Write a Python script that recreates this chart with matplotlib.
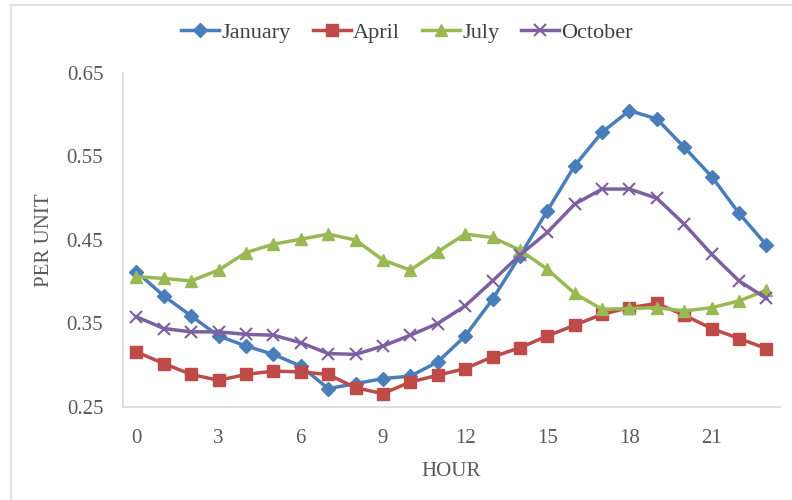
import numpy as np
from matplotlib import pyplot as plt
from matplotlib.lines import Line2D

plt.rcParams["font.family"] = "Liberation Serif"
plt.rcParams["font.size"] = 15

hours = list(range(24))

january = [0.412, 0.383, 0.359, 0.335, 0.323, 0.313, 0.299, 0.272, 0.278, 0.284, 0.287, 0.304,
           0.335, 0.379, 0.431, 0.485, 0.539, 0.579, 0.605, 0.595, 0.561, 0.526, 0.482, 0.444]
april = [0.316, 0.302, 0.289, 0.282, 0.289, 0.293, 0.292, 0.289, 0.273, 0.266, 0.280, 0.288,
         0.296, 0.310, 0.321, 0.335, 0.348, 0.361, 0.369, 0.374, 0.360, 0.344, 0.332, 0.320]
july = [0.406, 0.404, 0.401, 0.414, 0.435, 0.445, 0.451, 0.457, 0.450, 0.426, 0.414, 0.436,
        0.457, 0.453, 0.438, 0.415, 0.386, 0.367, 0.368, 0.369, 0.365, 0.369, 0.377, 0.390]
october = [0.358, 0.344, 0.340, 0.340, 0.337, 0.336, 0.327, 0.314, 0.313, 0.323, 0.336, 0.350,
           0.371, 0.401, 0.432, 0.459, 0.493, 0.511, 0.511, 0.500, 0.469, 0.433, 0.401, 0.380]

x_ticks = [0, 3, 6, 9, 12, 15, 18, 21]
y_ticks = [0.25, 0.35, 0.45, 0.55, 0.65]

text_color = "#595959"

fig = plt.figure(figsize=(7.92, 5), dpi=100)
ax = fig.add_axes([0.155, 0.186, 0.830, 0.668])

ax.plot(hours, january, color="#4A7EBB", lw=2.5, marker="D", ms=7, label="January")
ax.plot(hours, april, color="#BE4B48", lw=2.5, marker="s", ms=8, label="April")
ax.plot(hours, july, color="#98B954", lw=2.5, marker="^", ms=8.5, label="July")
ax.plot(hours, october, color="#7D60A0", lw=2.5, marker="x", ms=8, mew=1.5, label="October")

ax.set_xlim(-0.5, 23.5)
ax.set_ylim(0.25, 0.65)
ax.set_xticks(x_ticks)
ax.set_yticks(y_ticks)
ax.set_yticklabels(["{:.2f}".format(v) for v in y_ticks])
ax.tick_params(length=0, colors=text_color, labelsize=15)
ax.tick_params(axis="x", pad=16)
ax.tick_params(axis="y", pad=14)

for side in ["top", "right"]:
    ax.spines[side].set_visible(False)
for side in ["left", "bottom"]:
    ax.spines[side].set_color("#D9D9D9")
    ax.spines[side].set_linewidth(1.2)

ax.set_xlabel("HOUR", color=text_color, fontsize=15, labelpad=10)
ax.set_ylabel("PER UNIT", color=text_color, fontsize=15, labelpad=9)

leg = fig.legend(loc="center", bbox_to_anchor=(0.514, 0.934), ncol=4, frameon=False,
                 handlelength=1.7, handletextpad=0.1, columnspacing=1.0, fontsize=16)
for t in leg.get_texts():
    t.set_color("#404040")

# chart area outline (top and left edges)
fig.add_artist(Line2D([0.014, 1.0], [0.99, 0.99], color="#E0E0E0", lw=1.5))
fig.add_artist(Line2D([0.014, 0.014], [0.0, 0.99], color="#E0E0E0", lw=1.5))

plt.savefig("out.png", dpi=100)
